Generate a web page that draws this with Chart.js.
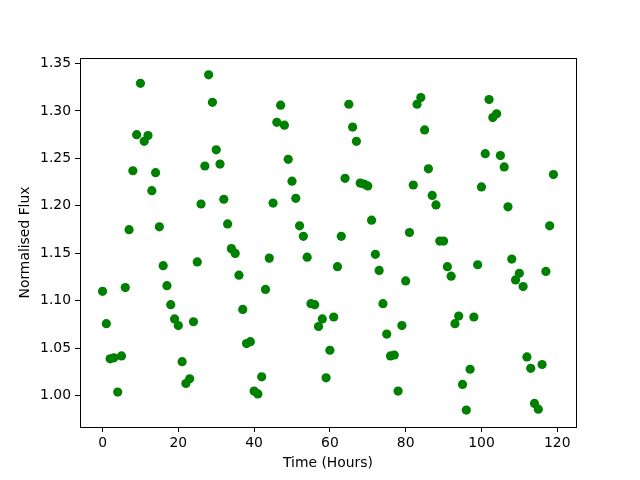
<!DOCTYPE html>
<html>
<head>
<meta charset="utf-8">
<script src="https://cdn.jsdelivr.net/npm/chart.js@4"></script>
<style>
    html, body { margin: 0; padding: 0; background: #fff; }
    #wrap { width: 640px; height: 480px; }
</style>
</head>
<body>
<div id="wrap"><canvas id="fluxChart" width="640" height="480"></canvas></div>
<script>
const hours = [
    0, 1, 2, 3, 4, 5, 6, 7, 8, 9, 10, 11, 12, 13, 14, 15, 16, 17, 18, 19,
    20, 21, 22, 23, 24, 25, 26, 27, 28, 29, 30, 31, 32, 33, 34, 35, 36, 37, 38, 39,
    40, 41, 42, 43, 44, 45, 46, 47, 48, 49, 50, 51, 52, 53, 54, 55, 56, 57, 58, 59,
    60, 61, 62, 63, 64, 65, 66, 67, 68, 69, 70, 71, 72, 73, 74, 75, 76, 77, 78, 79,
    80, 81, 82, 83, 84, 85, 86, 87, 88, 89, 90, 91, 92, 93, 94, 95, 96, 97, 98, 99,
    100, 101, 102, 103, 104, 105, 106, 107, 108, 109, 110, 111, 112, 113, 114, 115, 116, 117, 118, 119
];
const flux = [
    1.110, 1.076, 1.039, 1.040, 1.004, 1.042, 1.114, 1.175, 1.237, 1.275,
    1.329, 1.268, 1.274, 1.216, 1.235, 1.178, 1.137, 1.116, 1.096, 1.081,
    1.074, 1.036, 1.013, 1.018, 1.078, 1.141, 1.202, 1.242, 1.338, 1.309,
    1.259, 1.244, 1.207, 1.181, 1.155, 1.150, 1.127, 1.091, 1.055, 1.057,
    1.005, 1.002, 1.020, 1.112, 1.145, 1.203, 1.288, 1.306, 1.285, 1.249,
    1.226, 1.208, 1.179, 1.168, 1.146, 1.097, 1.096, 1.073, 1.081, 1.019,
    1.048, 1.083, 1.136, 1.168, 1.229, 1.307, 1.283, 1.268, 1.224, 1.223,
    1.221, 1.185, 1.149, 1.132, 1.097, 1.065, 1.042, 1.043, 1.005, 1.074,
    1.121, 1.172, 1.222, 1.307, 1.314, 1.280, 1.239, 1.211, 1.201, 1.163,
    1.163, 1.136, 1.126, 1.076, 1.084, 1.012, 0.985, 1.028, 1.083, 1.138,
    1.220, 1.255, 1.312, 1.293, 1.297, 1.253, 1.241, 1.199, 1.144, 1.122,
    1.129, 1.115, 1.041, 1.029, 0.992, 0.986, 1.033, 1.131, 1.179, 1.233
];
const xTicks = [0, 20, 40, 60, 80, 100, 120];
const yTicks = [1.00, 1.05, 1.10, 1.15, 1.20, 1.25, 1.30, 1.35];

const points = hours.map((h, i) => ({ x: h, y: flux[i] }));
const font = { family: 'DejaVu Sans', size: 13.9 };

// full box around the plot, like matplotlib spines
const frame = {
    id: 'frame',
    afterDraw(chart) {
        const a = chart.chartArea;
        const ctx = chart.ctx;
        ctx.save();
        ctx.strokeStyle = '#000';
        ctx.lineWidth = 1;
        ctx.strokeRect(Math.round(a.left) + 0.5, Math.round(a.top) + 0.5,
            Math.round(a.right - a.left), Math.round(a.bottom - a.top));
        ctx.restore();
    }
};

new Chart(document.getElementById('fluxChart').getContext('2d'), {
    type: 'scatter',
    data: {
        datasets: [{
            data: points,
            backgroundColor: '#008000',
            borderColor: '#008000',
            borderWidth: 0,
            pointRadius: 4.6,
            pointHoverRadius: 4.6
        }]
    },
    options: {
        responsive: false,
        animation: false,
        layout: { padding: { top: 58, right: 64, left: 0, bottom: 0 } },
        plugins: { legend: { display: false }, tooltip: { enabled: false } },
        scales: {
            x: {
                type: 'linear',
                min: -5.95,
                max: 124.95,
                afterBuildTicks: s => { s.ticks = xTicks.map(v => ({ value: v })); },
                afterFit: s => { s.height = 53; },
                grid: { display: true, drawOnChartArea: false, drawTicks: true, tickLength: 5, color: '#000' },
                border: { display: false },
                ticks: { color: '#000', font: font, padding: 3, maxRotation: 0 },
                title: { display: true, text: 'Time (Hours)', color: '#000', font: font, padding: { bottom: 8 } }
            },
            y: {
                type: 'linear',
                min: 0.9672,
                max: 1.3557,
                afterBuildTicks: s => { s.ticks = yTicks.map(v => ({ value: v })); },
                afterFit: s => { s.width = 80; },
                grid: { display: true, drawOnChartArea: false, drawTicks: true, tickLength: 5, color: '#000' },
                border: { display: false },
                ticks: { color: '#000', font: font, padding: 4, callback: v => v.toFixed(2) },
                title: { display: true, text: 'Normalised Flux', color: '#000', font: font, padding: { top: 17 } }
            }
        }
    },
    plugins: [frame]
});
</script>
</body>
</html>
